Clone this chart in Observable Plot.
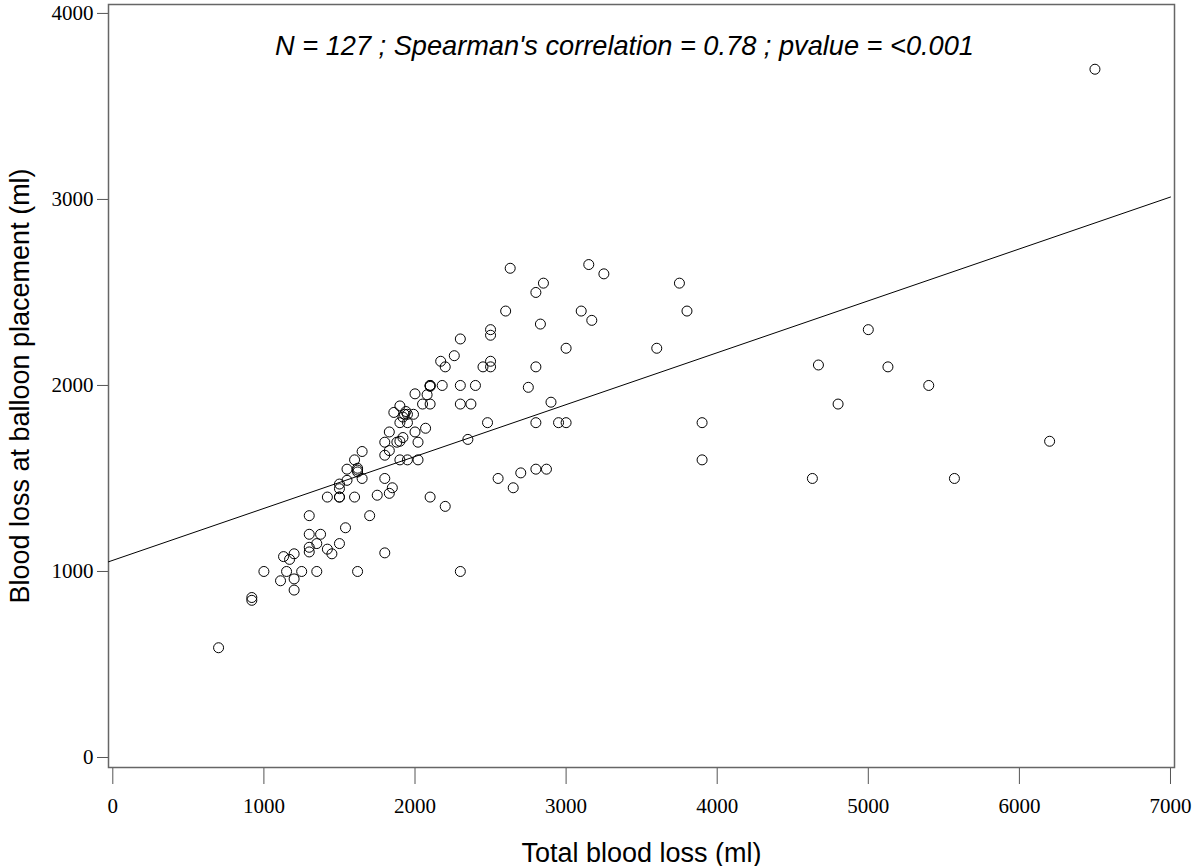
<!DOCTYPE html>
<html>
<head>
<meta charset="utf-8">
<script src="https://cdn.jsdelivr.net/npm/d3@7"></script>
<script src="https://cdn.jsdelivr.net/npm/@observablehq/plot@0.6"></script>
<style>
  html, body { margin: 0; padding: 0; background: #fff; }
  #chart svg { display: block; }
</style>
</head>
<body>
<div id="chart"></div>
<script>
// Total blood loss (ml)
const totalLoss = [
  700, 920, 920, 1000, 1110, 1130, 1170, 1150, 1200, 1200,
  1200, 1250, 1300, 1300, 1300, 1300, 1350, 1375, 1350, 1420,
  1450, 1500, 1540, 1620, 1420, 1500, 1500, 1600, 1500, 1500,
  1550, 1550, 1620, 1620, 1650, 1600, 1650, 1700, 1750, 1830,
  1850, 1800, 1800, 1800, 1830, 1800, 1830, 1880, 1900, 1920,
  1900, 1950, 2020, 2020, 2000, 2070, 1900, 1950, 1860, 1930,
  1950, 1940, 1990, 1900, 2050, 2100, 2000, 2080, 2100, 2100,
  2100, 2170, 2180, 2200, 2200, 2260, 2300, 2300, 2300, 2300,
  2350, 2370, 2400, 2450, 2480, 2500, 2500, 2500, 2500, 2550,
  2600, 2630, 2650, 2700, 2750, 2800, 2800, 2800, 2800, 2830,
  2850, 2870, 2900, 2950, 3000, 3000, 3100, 3150, 3170, 3250,
  3600, 3750, 3800, 3900, 3900, 4630, 4670, 4800, 5000, 5130,
  5400, 5570, 6200, 6500, 1920, 2100, 1620
];
// Blood loss at balloon placement (ml)
const balloonLoss = [
  590, 860, 845, 1000, 950, 1080, 1065, 1000, 1095, 960,
  900, 1000, 1300, 1200, 1130, 1105, 1000, 1200, 1150, 1120,
  1095, 1150, 1235, 1000, 1400, 1400, 1400, 1400, 1470, 1445,
  1490, 1550, 1555, 1535, 1500, 1600, 1645, 1300, 1410, 1420,
  1450, 1500, 1100, 1625, 1650, 1695, 1750, 1695, 1700, 1720,
  1600, 1600, 1600, 1695, 1750, 1770, 1800, 1800, 1855, 1845,
  1845, 1860, 1845, 1890, 1900, 1900, 1955, 1950, 2000, 2000,
  1400, 2130, 2000, 2100, 1350, 2160, 2250, 2000, 1900, 1000,
  1710, 1900, 2000, 2100, 1800, 2270, 2300, 2130, 2100, 1500,
  2400, 2630, 1450, 1530, 1990, 2500, 2100, 1800, 1550, 2330,
  2550, 1550, 1910, 1800, 1800, 2200, 2400, 2650, 2350, 2600,
  2200, 2550, 2400, 1800, 1600, 1500, 2110, 1900, 2300, 2100,
  2000, 1500, 1700, 3700, 1830, 1995, 1545
];
const xTicks = [0, 1000, 2000, 3000, 4000, 5000, 6000, 7000];
const yTicks = [0, 1000, 2000, 3000, 4000];
const fitIntercept = 1060;
const fitSlope = 0.279;
const annotation = "N = 127 ; Spearman's correlation = 0.78 ; pvalue = <0.001";
const xTitle = "Total blood loss (ml)";
const yTitle = "Blood loss at balloon placement (ml)";

const points = totalLoss.map((x, i) => ({x, y: balloonLoss[i]}));
const xDomain = [-28.5, 7026.5];
const yDomain = [-53.8, 4048];
const fitLine = [xDomain[0], xTicks[xTicks.length - 1]].map(x => ({x, y: fitIntercept + fitSlope * x}));

const serif = "'Liberation Serif', 'Times New Roman', serif";
const sans = "'Liberation Sans', Arial, sans-serif";

const chart = Plot.plot({
  width: 1192,
  height: 866,
  marginLeft: 108,
  marginRight: 18,
  marginTop: 4,
  marginBottom: 99,
  style: {background: "#fff", color: "#000", overflow: "visible"},
  x: {domain: xDomain},
  y: {domain: yDomain},
  marks: [
    Plot.axisX({ticks: xTicks, tickFormat: d => String(d), tickSize: 17, tickPadding: 14,
      fontSize: 21, fontFamily: serif, stroke: "#555", fill: "#000", label: null}),
    Plot.axisY({ticks: yTicks, tickFormat: d => String(d), tickSize: 11, tickPadding: 4,
      fontSize: 21, fontFamily: serif, stroke: "#555", fill: "#000", label: null}),
    Plot.frame({stroke: "#666", strokeWidth: 1.5}),
    Plot.line(fitLine, {x: "x", y: "y", stroke: "#000", strokeWidth: 1}),
    Plot.dot(points, {x: "x", y: "y", r: 5, stroke: "#000", fill: "none", strokeWidth: 1}),
    Plot.text([annotation], {text: d => d, frameAnchor: "top", lineAnchor: "middle", textAnchor: "middle",
      dy: 42, dx: -17, fontSize: 27.2, fontStyle: "italic", fontFamily: sans, fill: "#000"}),
    Plot.text([xTitle], {text: d => d, frameAnchor: "bottom", lineAnchor: "middle", textAnchor: "middle",
      dy: 86, fontSize: 27, fontFamily: sans, fill: "#000"}),
    Plot.text([yTitle], {text: d => d, frameAnchor: "left", lineAnchor: "middle", textAnchor: "middle",
      dx: -88, rotate: -90, fontSize: 27, fontFamily: sans, fill: "#000"})
  ]
});
document.getElementById("chart").appendChild(chart);
</script>
</body>
</html>
